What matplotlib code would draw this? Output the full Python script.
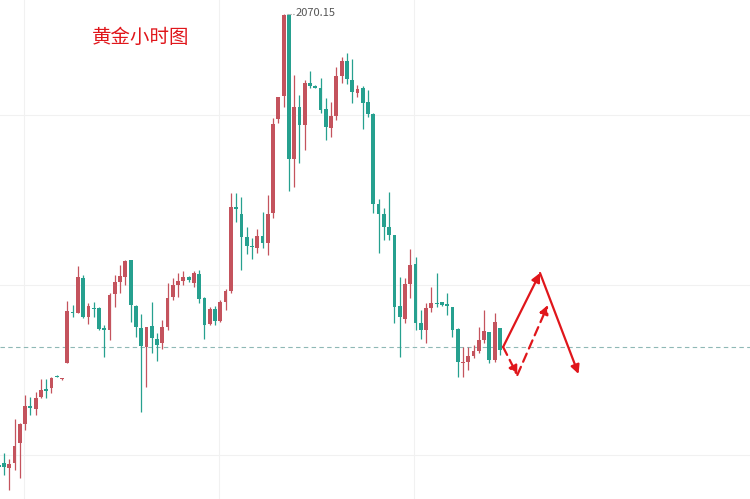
import numpy as np
import matplotlib
matplotlib.use('Agg')
import matplotlib.pyplot as plt

plt.rcParams['font.family'] = ['Noto Sans CJK SC', 'DejaVu Sans']

# 黄金小时K线 (开, 高, 低, 收)，从左往右
opens = [2025.0, 2025.2, 2024.7, 2025.2, 2027.2, 2029.1, 2030.9, 2030.6, 2031.8, 2032.6,
         2032.7, 2033.9, 2033.6, 2035.2, 2040.3, 2040.2, 2043.7, 2039.8, 2040.75, 2040.7,
         2038.65, 2038.5, 2042.1, 2043.3, 2043.8, 2045.5, 2040.9, 2038.7, 2036.8, 2038.9,
         2037.6, 2037.2, 2038.8, 2041.8, 2043.0, 2043.4, 2043.8, 2043.2, 2044.1, 2041.7,
         2039.1, 2040.6, 2039.4, 2041.3, 2042.4, 2050.8, 2050.1, 2047.8, 2046.9, 2046.7,
         2047.9, 2047.2, 2050.2, 2059.6, 2061.9, 2070.0, 2055.6, 2060.8, 2059.0, 2063.2,
         2062.9, 2062.7, 2060.6, 2058.7, 2059.9, 2063.9, 2065.4, 2063.5, 2062.2, 2062.7,
         2061.3, 2060.1, 2051.1, 2050.1, 2048.8, 2048.0, 2040.9, 2039.6, 2043.1, 2045.1,
         2039.2, 2038.5, 2040.7, 2041.25, 2041.3, 2041.1, 2040.8, 2038.6, 2035.2, 2035.3,
         2035.9, 2036.4, 2037.5, 2038.3, 2035.5, 2038.7]
highs = [2025.5, 2026.2, 2025.6, 2029.6, 2029.2, 2032.0, 2031.8, 2032.3, 2033.6, 2033.6,
         2033.8, 2034.0, 2033.7, 2041.4, 2041.0, 2044.9, 2044.0, 2041.2, 2041.3, 2040.8,
         2039.0, 2042.2, 2044.0, 2045.0, 2045.5, 2045.5, 2041.0, 2040.1, 2038.8, 2041.3,
         2038.2, 2039.5, 2043.2, 2043.7, 2044.2, 2044.4, 2043.9, 2044.4, 2044.5, 2041.8,
         2040.8, 2040.9, 2041.5, 2042.6, 2052.2, 2052.2, 2051.8, 2048.8, 2047.7, 2048.6,
         2050.3, 2052.0, 2059.7, 2061.8, 2070.15, 2070.1, 2064.0, 2062.0, 2063.5, 2064.4,
         2063.0, 2063.7, 2061.7, 2061.3, 2064.8, 2065.8, 2066.2, 2065.6, 2063.0, 2062.9,
         2062.5, 2060.2, 2051.6, 2050.7, 2052.3, 2048.0, 2043.8, 2043.7, 2046.6, 2045.8,
         2040.5, 2041.2, 2042.8, 2044.2, 2041.3, 2042.2, 2040.8, 2038.7, 2036.8, 2036.8,
         2037.0, 2038.8, 2040.5, 2038.3, 2040.2, 2038.7]
lows = [2024.5, 2024.0, 2022.5, 2024.5, 2023.7, 2028.5, 2030.0, 2030.0, 2031.7, 2031.7,
        2032.2, 2033.8, 2033.5, 2035.2, 2039.8, 2040.2, 2039.7, 2039.1, 2039.8, 2038.5,
        2035.8, 2037.5, 2040.8, 2042.2, 2043.0, 2039.3, 2037.8, 2030.3, 2032.8, 2036.2,
        2035.4, 2036.6, 2038.5, 2041.5, 2041.8, 2043.0, 2043.3, 2042.8, 2041.2, 2037.6,
        2039.0, 2039.0, 2039.3, 2040.5, 2042.2, 2049.3, 2044.5, 2046.1, 2045.6, 2046.2,
        2046.7, 2046.0, 2049.7, 2059.2, 2060.8, 2052.4, 2052.8, 2055.2, 2056.5, 2062.7,
        2062.7, 2060.2, 2057.5, 2057.8, 2059.5, 2063.2, 2063.1, 2061.2, 2061.8, 2058.6,
        2059.8, 2050.2, 2046.2, 2047.5, 2047.5, 2039.2, 2035.8, 2039.2, 2041.7, 2038.5,
        2037.6, 2037.2, 2040.3, 2040.8, 2040.9, 2040.0, 2037.8, 2033.8, 2033.8, 2034.5,
        2035.7, 2036.2, 2037.2, 2035.2, 2035.3, 2036.0]
closes = [2024.8, 2024.8, 2025.1, 2026.9, 2029.1, 2030.9, 2030.7, 2031.7, 2032.5, 2032.4,
          2033.7, 2033.8, 2033.6, 2040.4, 2040.2, 2043.8, 2039.8, 2040.9, 2040.65, 2038.6,
          2038.55, 2042.0, 2043.3, 2043.9, 2045.4, 2041.0, 2038.8, 2036.9, 2038.8, 2037.7,
          2037.0, 2038.8, 2041.7, 2043.0, 2043.4, 2043.8, 2043.5, 2044.2, 2041.6, 2039.0,
          2040.6, 2039.4, 2041.3, 2042.4, 2050.8, 2050.6, 2047.8, 2046.9, 2046.8, 2047.9,
          2047.2, 2050.1, 2059.1, 2061.8, 2070.0, 2055.6, 2060.8, 2059.0, 2063.2, 2062.9,
          2062.75, 2060.5, 2058.8, 2059.9, 2063.9, 2065.4, 2063.6, 2062.3, 2062.6, 2061.2,
          2060.1, 2051.1, 2050.1, 2048.8, 2048.0, 2040.8, 2039.8, 2043.1, 2045.0, 2039.2,
          2038.5, 2040.7, 2041.2, 2041.15, 2041.0, 2040.9, 2038.5, 2035.3, 2035.3, 2035.9,
          2036.4, 2037.5, 2038.4, 2035.5, 2039.3, 2036.5]

title = '黄金小时图'
high_label = '2070.15'
last_price = 2036.8
grid_prices = [2026, 2043, 2060]
grid_bars = [3.8, 40.7, 77.7]

# 预测路径 (K线序号, 价格)
solid_path = [(94.6, 2036.8), (101.6, 2044.2), (108.9, 2034.1)]
dashed_path = [(94.6, 2036.8), (97.3, 2034.0), (103.1, 2041.0)]

up_color = '#c4535d'
down_color = '#26a08f'
arrow_color = '#e0161b'

o = np.array(opens)
h = np.array(highs)
l = np.array(lows)
c = np.array(closes)
x = np.arange(len(o)) - 1
colors = np.where(c >= o, up_color, down_color)

fig = plt.figure(figsize=(7.5, 4.99), dpi=100)
ax = fig.add_axes([0, 0, 1, 1])

# 网格
for g in grid_prices:
    ax.axhline(g, color='#f1f1f1', lw=0.8, zorder=0)
for g in grid_bars:
    ax.axvline(g, color='#f1f1f1', lw=0.8, zorder=0)

# 最新价虚线
ax.axhline(last_price, color='#8fb8b6', lw=0.8, ls=(0, (4, 3)), zorder=1)

# K线
ax.vlines(x, l, h, colors=colors, lw=0.9, zorder=2)
body = np.maximum(np.abs(c - o), 0.1)
ax.bar(x, body, bottom=np.minimum(o, c), width=0.72, color=colors, zorder=3)

# 最高价标记
top = int(np.argmax(h))
ax.plot([x[top] + 0.6, x[top] + 1.9], [h[top], h[top]], ls=':', color='#888888', lw=0.8)
ax.text(x[top] + 2.2, h[top], high_label, fontsize=8, color='#555555', va='center', ha='left')

# 预测箭头
def draw_path(path, ls):
    for (x0, y0), (x1, y1) in zip(path[:-1], path[1:]):
        ax.annotate('', xy=(x1, y1), xytext=(x0, y0),
                    arrowprops=dict(arrowstyle='-|>', color=arrow_color, lw=1.6,
                                    ls=ls, mutation_scale=13, shrinkA=0, shrinkB=0),
                    zorder=5)

draw_path(solid_path, '-')
draw_path(dashed_path, (0, (4, 2.5)))

ax.text(92 / 750, 1 - 37 / 499, title, transform=ax.transAxes, fontsize=14,
        color=arrow_color, va='center', ha='left')

ax.set_xlim(-0.76, 141.4)
ax.set_ylim(2021.6, 2071.5)
ax.axis('off')

fig.savefig('out.png', dpi=100, facecolor='white')
